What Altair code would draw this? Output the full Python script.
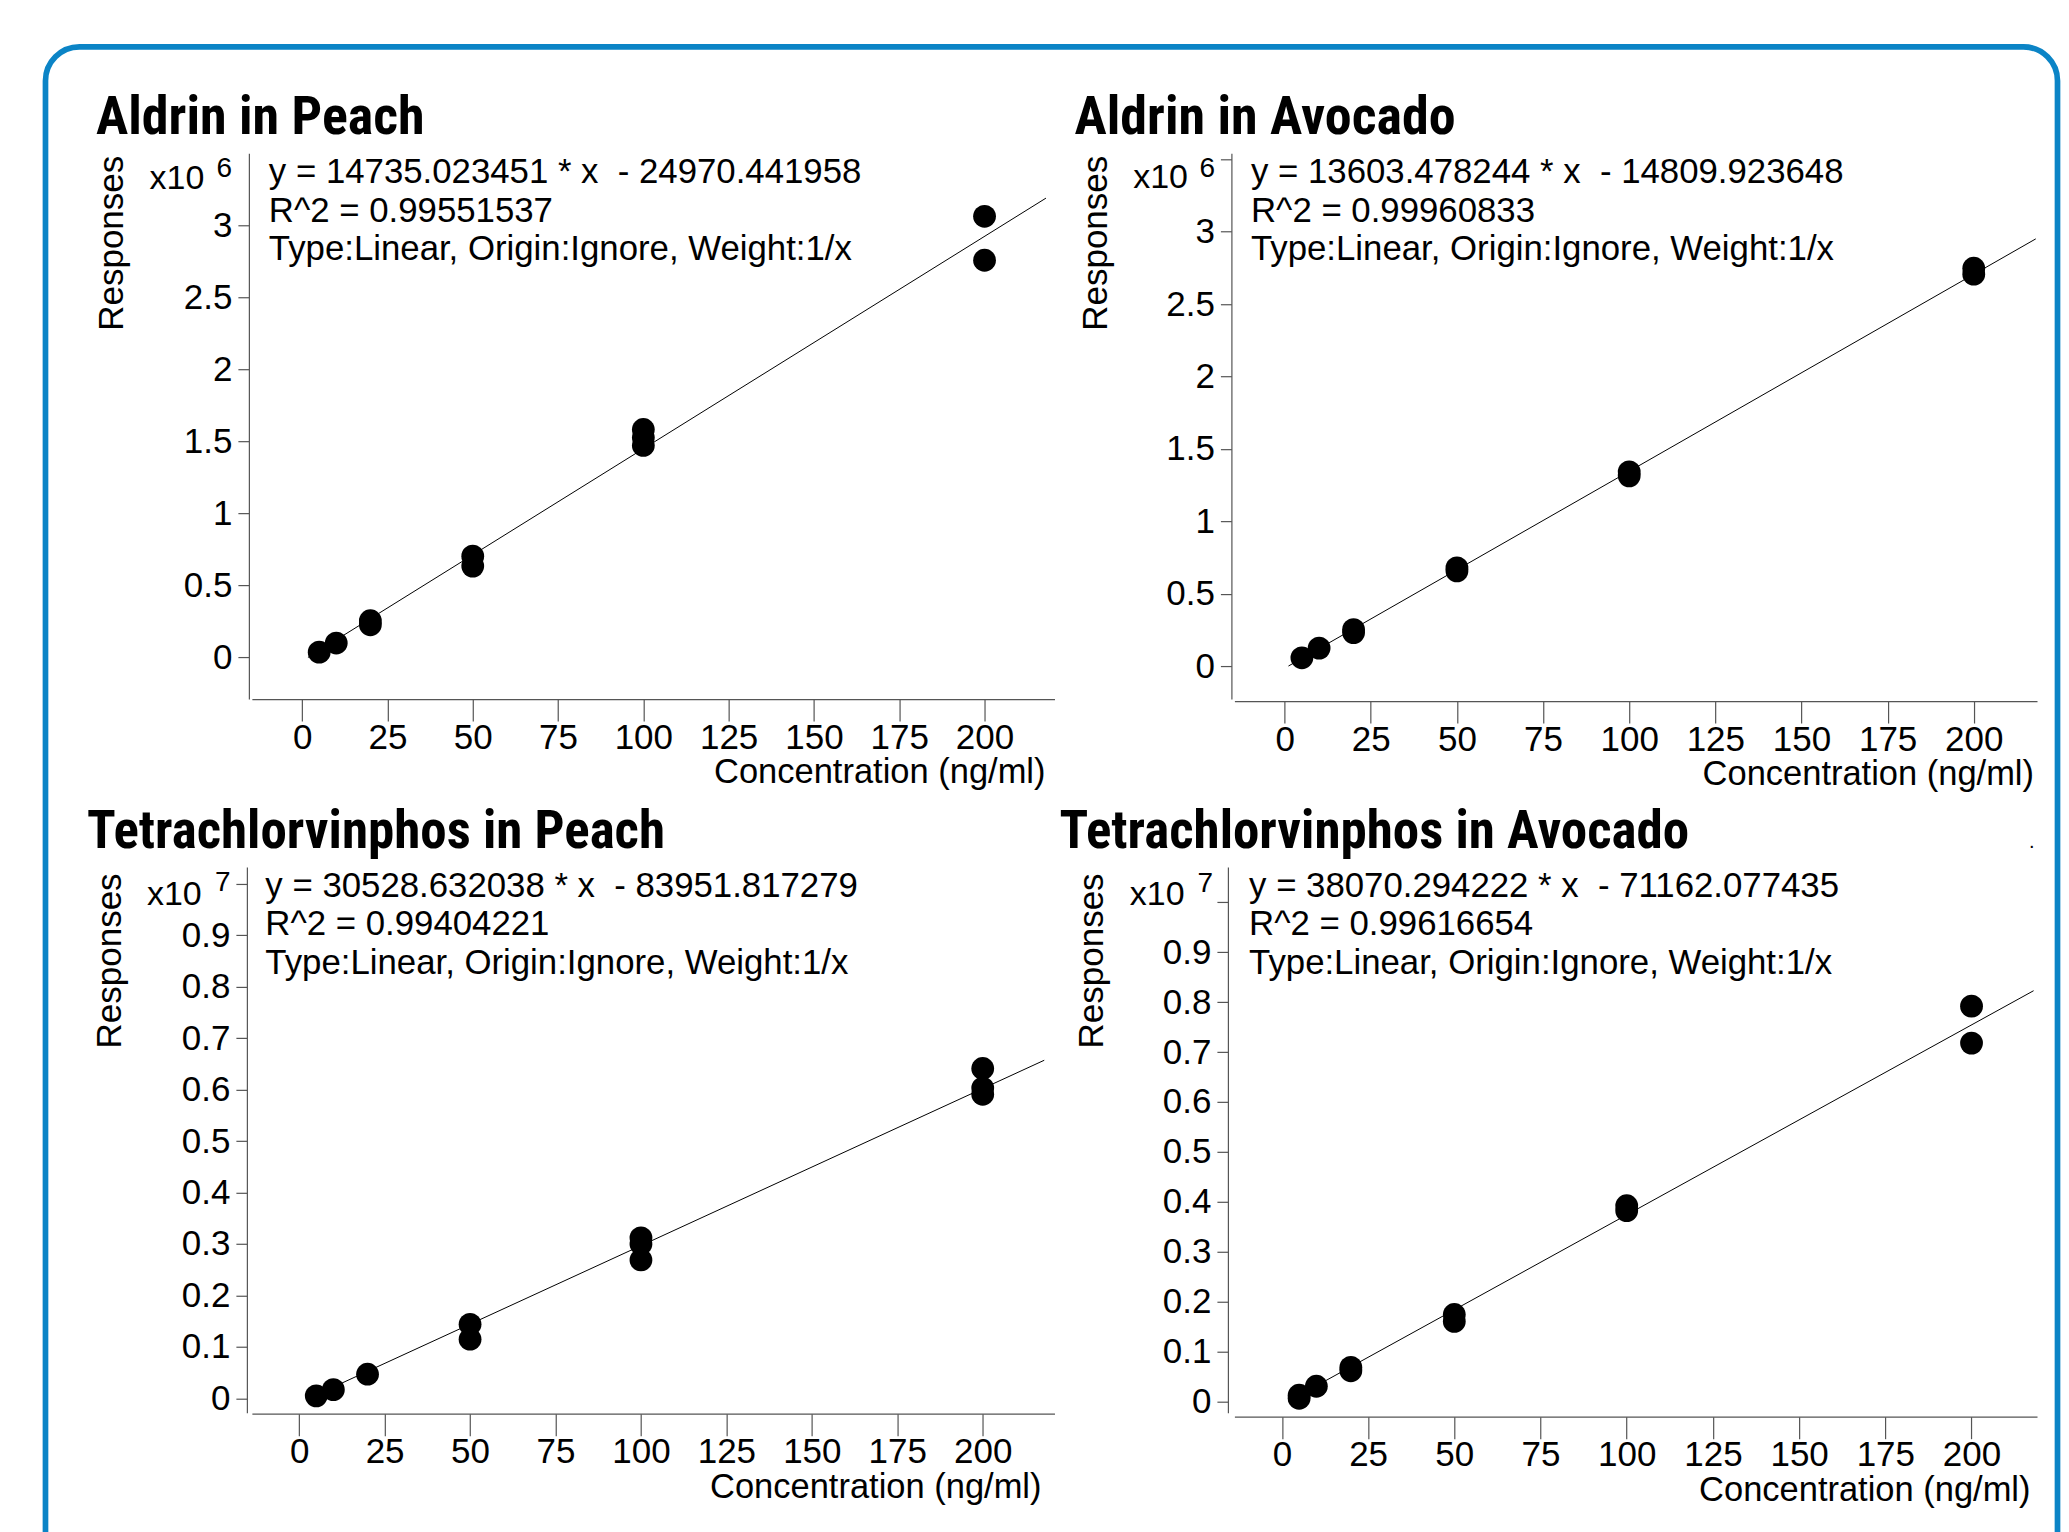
import altair as alt
import pandas as pd

# ---------------- data ----------------
titles = ["Aldrin in Peach", "Aldrin in Avocado",
          "Tetrachlorvinphos in Peach", "Tetrachlorvinphos in Avocado"]
equations = ["y = 14735.023451 * x\u00a0 - 24970.441958",
             "y = 13603.478244 * x\u00a0 - 14809.923648",
             "y = 30528.632038 * x\u00a0 - 83951.817279",
             "y = 38070.294222 * x\u00a0 - 71162.077435"]
r_squared = ["R^2 = 0.99551537", "R^2 = 0.99960833",
             "R^2 = 0.99404221", "R^2 = 0.99616654"]
fit_type = "Type:Linear, Origin:Ignore, Weight:1/x"
exponents = ["6", "6", "7", "7"]

x_ticks = [0, 25, 50, 75, 100, 125, 150, 175, 200]
y_ticks_aldrin = [0, 0.5, 1, 1.5, 2, 2.5, 3, 3.5]
y_ticks_tcvp = [0, 0.1, 0.2, 0.3, 0.4, 0.5, 0.6, 0.7, 0.8, 0.9, 1.0]

# Aldrin in Peach (responses x10^6)
conc_ap = [5, 10, 20, 20, 50, 50, 100, 100, 100, 200, 200]
resp_ap = [0.037, 0.100, 0.255, 0.227, 0.703, 0.634, 1.582, 1.526, 1.471, 3.061, 2.756]
fit_x_ap = [1.7, 218]
fit_y_ap = [0.0, 3.187]

# Aldrin in Avocado (responses x10^6)
conc_aa = [5, 10, 20, 20, 50, 50, 100, 100, 200, 200]
resp_aa = [0.057, 0.124, 0.252, 0.231, 0.678, 0.657, 1.342, 1.314, 2.748, 2.707]
fit_x_aa = [1.1, 218]
fit_y_aa = [0.0, 2.951]

# Tetrachlorvinphos in Peach (responses x10^7)
conc_tp = [5, 10, 20, 50, 50, 100, 100, 100, 200, 200, 200]
resp_tp = [0.005, 0.017, 0.047, 0.144, 0.115, 0.312, 0.300, 0.269, 0.641, 0.603, 0.591]
fit_x_tp = [2.75, 218]
fit_y_tp = [0.0, 0.657]

# Tetrachlorvinphos in Avocado (responses x10^7)
conc_ta = [5, 5, 10, 20, 20, 50, 50, 100, 100, 200, 200]
resp_ta = [0.012, 0.006, 0.030, 0.068, 0.061, 0.174, 0.160, 0.392, 0.382, 0.792, 0.718]
fit_x_ta = [1.87, 218]
fit_y_ta = [0.0, 0.823]

# ---------------- styling / layout ----------------
FONT = "Liberation Sans, Arial, Helvetica, sans-serif"
TFONT = "Roboto Condensed, Archivo Narrow, PT Sans Narrow, Fira Sans Condensed, DejaVu Sans Condensed, sans-serif"
BLUE = "#0b84c6"
AX = "#555555"
W, H = 803, 546

geom = [
    dict(xdom=[-14.73, 220.5], ydom=[-0.2885, 3.498], xoff=0, yoff=3,
         title=(-156, -19.5), tsize=54, resp=(-128.5, 90), x10=(-102.4, 35.8), exp=(-35.4, 24),
         ann_x=17, conc=(794, H + 84)),
    dict(xdom=[-14.59, 218.36], ydom=[-0.228, 3.542], xoff=2, yoff=3,
         title=(-160, -19.5), tsize=54, resp=(-127.8, 90), x10=(-101.3, 34.5), exp=(-35, 24),
         ann_x=16.6, conc=(800, H + 86)),
    dict(xdom=[-13.84, 221.0], ydom=[-0.0278, 1.0326], xoff=1, yoff=5,
         title=(-165, -18.5), tsize=53, resp=(-130.5, 94), x10=(-105, 37.7), exp=(-37, 24.3),
         ann_x=13.5, conc=(790, H + 85)),
    dict(xdom=[-13.77, 218.99], ydom=[-0.023, 1.0711], xoff=4, yoff=6.5,
         title=(-175, -18.5), tsize=53, resp=(-131, 94), x10=(-104.6, 37.7), exp=(-37, 25),
         ann_x=14.7, conc=(796.5, H + 88)),
]


def txt(s, x, y, size, font=FONT, weight="normal", align="left",
        baseline="alphabetic", angle=0):
    return alt.Chart(alt.Data(values=[{}])).mark_text(
        align=align, baseline=baseline, font=font, fontSize=size,
        fontWeight=weight, color="black", angle=angle
    ).encode(x=alt.value(x), y=alt.value(y), text=alt.value(s))


def panel(i, conc, resp, fit_x, fit_y, yticks, extra=None):
    g = geom[i]
    pts = pd.DataFrame({"c": conc, "r": resp})
    fit = pd.DataFrame({"c": fit_x, "r": fit_y})
    xs = alt.Scale(domain=g["xdom"], nice=False, zero=False)
    ys = alt.Scale(domain=g["ydom"], nice=False, zero=False)
    top = yticks[-1]
    xax = alt.Axis(values=x_ticks, format="d", title=None, grid=False,
                   tickSize=22, tickColor=AX, tickWidth=1.2,
                   domainColor=AX, domainWidth=1.2,
                   labelFont=FONT, labelFontSize=35, labelColor="black",
                   labelPadding=-1, labelFlush=False, labelOverlap=False,
                   offset=g["xoff"])
    yax = alt.Axis(values=yticks, title=None, grid=False,
                   tickSize=11, tickColor=AX, tickWidth=1.2,
                   domainColor=AX, domainWidth=1.2,
                   labelFont=FONT, labelFontSize=35, labelColor="black",
                   labelPadding=6, labelOverlap=False, labelFlush=False,
                   labelExpr=f"datum.value >= {top} ? '' : format(datum.value, '~g')",
                   offset=g["yoff"])
    line = alt.Chart(fit).mark_line(color="black", strokeWidth=1).encode(
        x=alt.X("c:Q", scale=xs, axis=xax),
        y=alt.Y("r:Q", scale=ys, axis=yax))
    points = alt.Chart(pts).mark_circle(size=520, color="black", opacity=1).encode(
        x=alt.X("c:Q", scale=xs), y=alt.Y("r:Q", scale=ys))
    layers = []
    if extra is not None:
        layers.extend(extra)
    layers += [line, points,
               txt(titles[i], g["title"][0], g["title"][1], g["tsize"], font=TFONT, weight="bold"),
               txt("Responses", g["resp"][0], g["resp"][1], 35, align="center", angle=270),
               txt("x10", g["x10"][0], g["x10"][1], 34),
               txt(exponents[i], g["exp"][0], g["exp"][1], 28),
               txt(equations[i], g["ann_x"], 30, 34.8),
               txt(r_squared[i], g["ann_x"], 68.5, 34.8),
               txt(fit_type, g["ann_x"], 107, 34.8),
               txt("Concentration (ng/ml)", g["conc"][0], g["conc"][1], 34.5, align="right")]
    return alt.layer(*layers).properties(width=W, height=H)


# rounded blue frame around the whole figure (bottom edge lies below the page)
border = alt.Chart(alt.Data(values=[{}])).mark_rect(
    fill="transparent", stroke=BLUE, strokeWidth=5.7, cornerRadius=34
).encode(x=alt.value(-206.5), x2=alt.value(1806.5),
         y=alt.value(-106.5), y2=alt.value(1418))

p1 = panel(0, conc_ap, resp_ap, fit_x_ap, fit_y_ap, y_ticks_aldrin, extra=[border])
p2 = panel(1, conc_aa, resp_aa, fit_x_aa, fit_y_aa, y_ticks_aldrin)
p3 = panel(2, conc_tp, resp_tp, fit_x_tp, fit_y_tp, y_ticks_tcvp)
p4 = panel(3, conc_ta, resp_ta, fit_x_ta, fit_y_ta, y_ticks_tcvp,
           extra=[txt(".", 795, -19, 20)])

chart = alt.concat(p1, p2, p3, p4, columns=2,
                   spacing={"row": 168, "column": 180}, bounds="flush").properties(
    padding={"left": 34, "top": 35, "right": 0, "bottom": 0}
).configure_view(stroke=None)

chart.save("out.html", embed_options={"renderer": "svg", "actions": False})
